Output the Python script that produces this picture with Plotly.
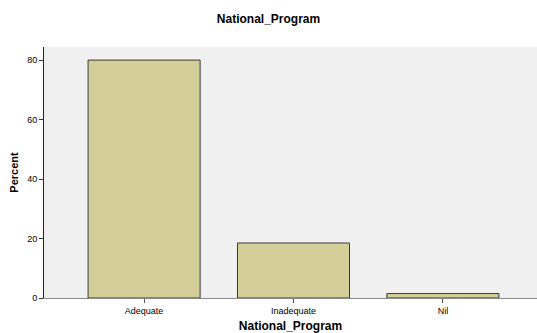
import plotly.graph_objects as go

categories = ["Adequate", "Inadequate", "Nil"]
percent = [80.0, 18.5, 1.5]

font = "Liberation Sans, Arial, sans-serif"

fig = go.Figure(go.Bar(
    x=[0, 1, 2], y=percent, width=0.75,
    marker=dict(color="#d3ce97", line=dict(color="#3a3a3a", width=1)),
))

fig.update_layout(
    width=537, height=333,
    margin=dict(l=44, r=0, t=47, b=35),
    paper_bgcolor="white", plot_bgcolor="#f0f0f0",
    showlegend=False,
    title=dict(text="<b>National_Program</b>", x=0.5, xanchor="center", y=0.945, yanchor="middle",
               font=dict(family=font, size=12, color="#000")),
    xaxis=dict(
        range=[-0.67, 2.63], tickvals=[0, 1, 2], ticktext=categories,
        showline=True, linecolor="#8a8a8a", linewidth=1, mirror=False,
        ticks="outside", ticklen=4, tickcolor="#555", showgrid=False, zeroline=False,
        tickfont=dict(family=font, size=9, color="#000"),
        title=dict(text="<b>National_Program</b>", standoff=8,
                   font=dict(family=font, size=12, color="#000")),
    ),
    yaxis=dict(
        range=[0, 84.4], tickvals=[0, 20, 40, 60, 80],
        showline=True, linecolor="#222", linewidth=1,
        ticks="outside", ticklen=4, tickcolor="#333", showgrid=False, zeroline=False,
        tickfont=dict(family=font, size=9, color="#000"),
        title=dict(text="<b>Percent</b>", standoff=6,
                   font=dict(family=font, size=11, color="#000")),
    ),
)

# drop the default 8px page margin so the figure sits at the window corner
fig.write_html("out.html", config={"displayModeBar": False},
               post_script="document.body.style.margin='0';")
